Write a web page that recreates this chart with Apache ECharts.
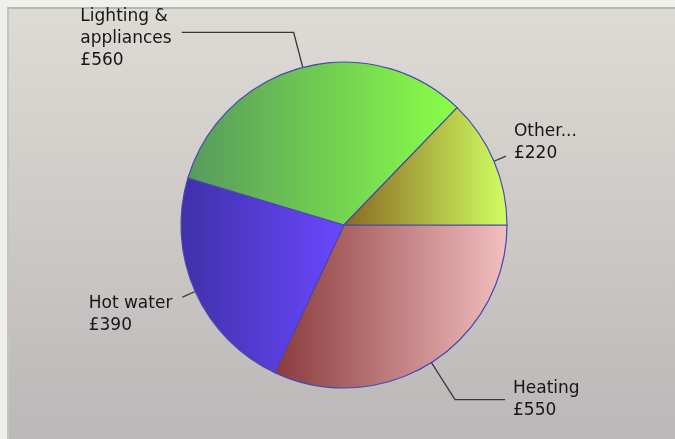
<!DOCTYPE html>
<html>
<head>
<meta charset="utf-8">
<script src="https://cdn.jsdelivr.net/npm/echarts@6/dist/echarts.min.js"></script>
<style>
    html, body { margin: 0; padding: 0; background: #efefec; }
    #panel {
        position: absolute; left: 7px; top: 7px; width: 668px; height: 432px;
        border-top: 2px solid #b7b7b4; border-left: 2px solid #c4c4c2;
        background: linear-gradient(#dedbd5, #bcb7b8);
    }
    #chart { position: absolute; left: 0; top: 0; width: 675px; height: 439px; }
</style>
</head>
<body>
<div id="panel"></div>
<div id="chart"></div>
<script>
// energy costs per year
var categories = ['Heating', 'Hot water', 'Lighting &\nappliances', 'Other...'];
var values = [550, 390, 560, 220];

// left -> right colour of each slice
var colorsLeft = ['#8a3a3c', '#4030a8', '#579a5c', '#8a6a22'];
var colorsRight = ['#f3bfbf', '#6a48ff', '#8aff48', '#d0ff62'];

// label line lengths and padding (nudges text like the original)
var lineLength = [44, 14, 36, 13];
var lineLength2 = [50, 0, 112, 0];
var labelGap = [8, 10, 10, 8];
var labelPadding = [[0, 0, 0, 0], [34, 0, 0, 0], [12, 0, 0, 0], [0, 0, 28, 0]];

function gradient(i) {
    return new echarts.graphic.LinearGradient(0, 0, 1, 0, [
        {offset: 0, color: colorsLeft[i]},
        {offset: 1, color: colorsRight[i]}
    ]);
}

var data = categories.map(function (name, i) {
    return {
        name: name,
        value: values[i],
        itemStyle: {color: gradient(i)},
        label: {padding: labelPadding[i], distanceToLabelLine: labelGap[i]},
        labelLine: {length: lineLength[i], length2: lineLength2[i]}
    };
});

var option = {
    animation: false,
    series: [{
        type: 'pie',
        center: [344, 225],
        radius: 163,
        startAngle: 0,
        clockwise: true,
        avoidLabelOverlap: false,
        itemStyle: {borderColor: '#4848b0', borderWidth: 1.2},
        label: {
            formatter: '{t|{b}}\n{t|£{c}}',
            rich: {
                t: {
                    align: 'left',
                    fontFamily: 'DejaVu Sans',
                    fontSize: 17,
                    lineHeight: 22,
                    color: '#161616'
                }
            }
        },
        labelLine: {
            lineStyle: {color: '#383838', width: 1.3}
        },
        emphasis: {disabled: true},
        data: data
    }]
};

echarts.init(document.getElementById('chart')).setOption(option);
</script>
</body>
</html>
